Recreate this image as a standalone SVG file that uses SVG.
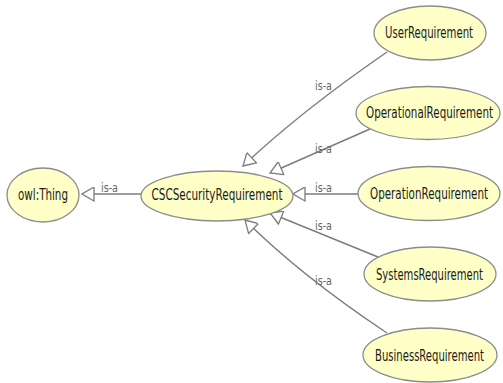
<svg xmlns="http://www.w3.org/2000/svg" width="503" height="383" viewBox="0 0 503 383">
<style>
.node ellipse{fill:#ffffc8;stroke:#8c8c8c;stroke-width:1.3}
.node text{font-family:"Liberation Sans Narrow","DejaVu Sans Condensed","Liberation Sans",sans-serif;font-size:16px;fill:#1a1a1a;text-anchor:middle}
.edge{fill:none;stroke:#7c7c7c;stroke-width:1.4;marker-end:url(#tri)}
.lbl{font-family:"Liberation Sans Narrow","DejaVu Sans Condensed","Liberation Sans",sans-serif;font-size:12.5px;fill:#666}
</style>
<defs>
<marker id="tri" markerUnits="userSpaceOnUse" markerWidth="14" markerHeight="15" refX="12" refY="7" orient="auto" viewBox="-1 -1 14 15">
<path d="M0,0 L12,7 L0,14 Z" fill="#fff" stroke="#7c7c7c" stroke-width="1.3"/>
</marker>
</defs>
<rect width="503" height="383" fill="#fff"/>
<g id="connectors">
<path class="edge" d="M141,194 L82,194"/>
<path class="edge" d="M387,52 Q300,112 243,166"/>
<path class="edge" d="M370,129 L270,173"/>
<path class="edge" d="M358,194 L293,194"/>
<path class="edge" d="M378,257 L270,213"/>
<path class="edge" d="M387,333 Q300,275 245,220"/>
<text class="lbl" x="101" y="192" textLength="17" lengthAdjust="spacingAndGlyphs">is-a</text>
<text class="lbl" x="315" y="90" textLength="17" lengthAdjust="spacingAndGlyphs">is-a</text>
<text class="lbl" x="315" y="153" textLength="17" lengthAdjust="spacingAndGlyphs">is-a</text>
<text class="lbl" x="315" y="192" textLength="17" lengthAdjust="spacingAndGlyphs">is-a</text>
<text class="lbl" x="315" y="230" textLength="17" lengthAdjust="spacingAndGlyphs">is-a</text>
<text class="lbl" x="315" y="285" textLength="17" lengthAdjust="spacingAndGlyphs">is-a</text>
</g>
<g id="owlThing" class="node"><ellipse cx="43" cy="195" rx="36" ry="27"/><text transform="matrix(0.7,0,0,1,43,200)" textLength="71.4" lengthAdjust="spacingAndGlyphs">owl:Thing</text></g>
<g id="CSCSecurityRequirement" class="node"><ellipse cx="217" cy="196" rx="76" ry="25"/><text transform="matrix(0.7,0,0,1,217,200)" textLength="187.1" lengthAdjust="spacingAndGlyphs">CSCSecurityRequirement</text></g>
<g id="UserRequirement" class="node"><ellipse cx="430" cy="33" rx="56" ry="27"/><text transform="matrix(0.7,0,0,1,429,38)" textLength="125.7" lengthAdjust="spacingAndGlyphs">UserRequirement</text></g>
<g id="OperationalRequirement" class="node"><ellipse cx="428" cy="113" rx="72" ry="26.5"/><text transform="matrix(0.7,0,0,1,429.5,118)" textLength="181.4" lengthAdjust="spacingAndGlyphs">OperationalRequirement</text></g>
<g id="OperationRequirement" class="node"><ellipse cx="429" cy="193.5" rx="71" ry="27"/><text transform="matrix(0.7,0,0,1,429,199)" textLength="168.6" lengthAdjust="spacingAndGlyphs">OperationRequirement</text></g>
<g id="SystemsRequirement" class="node"><ellipse cx="430" cy="274" rx="66" ry="27"/><text transform="matrix(0.7,0,0,1,429.5,280)" textLength="152.9" lengthAdjust="spacingAndGlyphs">SystemsRequirement</text></g>
<g id="BusinessRequirement" class="node"><ellipse cx="430" cy="355" rx="67" ry="27"/><text transform="matrix(0.7,0,0,1,429.5,361)" textLength="155.7" lengthAdjust="spacingAndGlyphs">BusinessRequirement</text></g>
</svg>
